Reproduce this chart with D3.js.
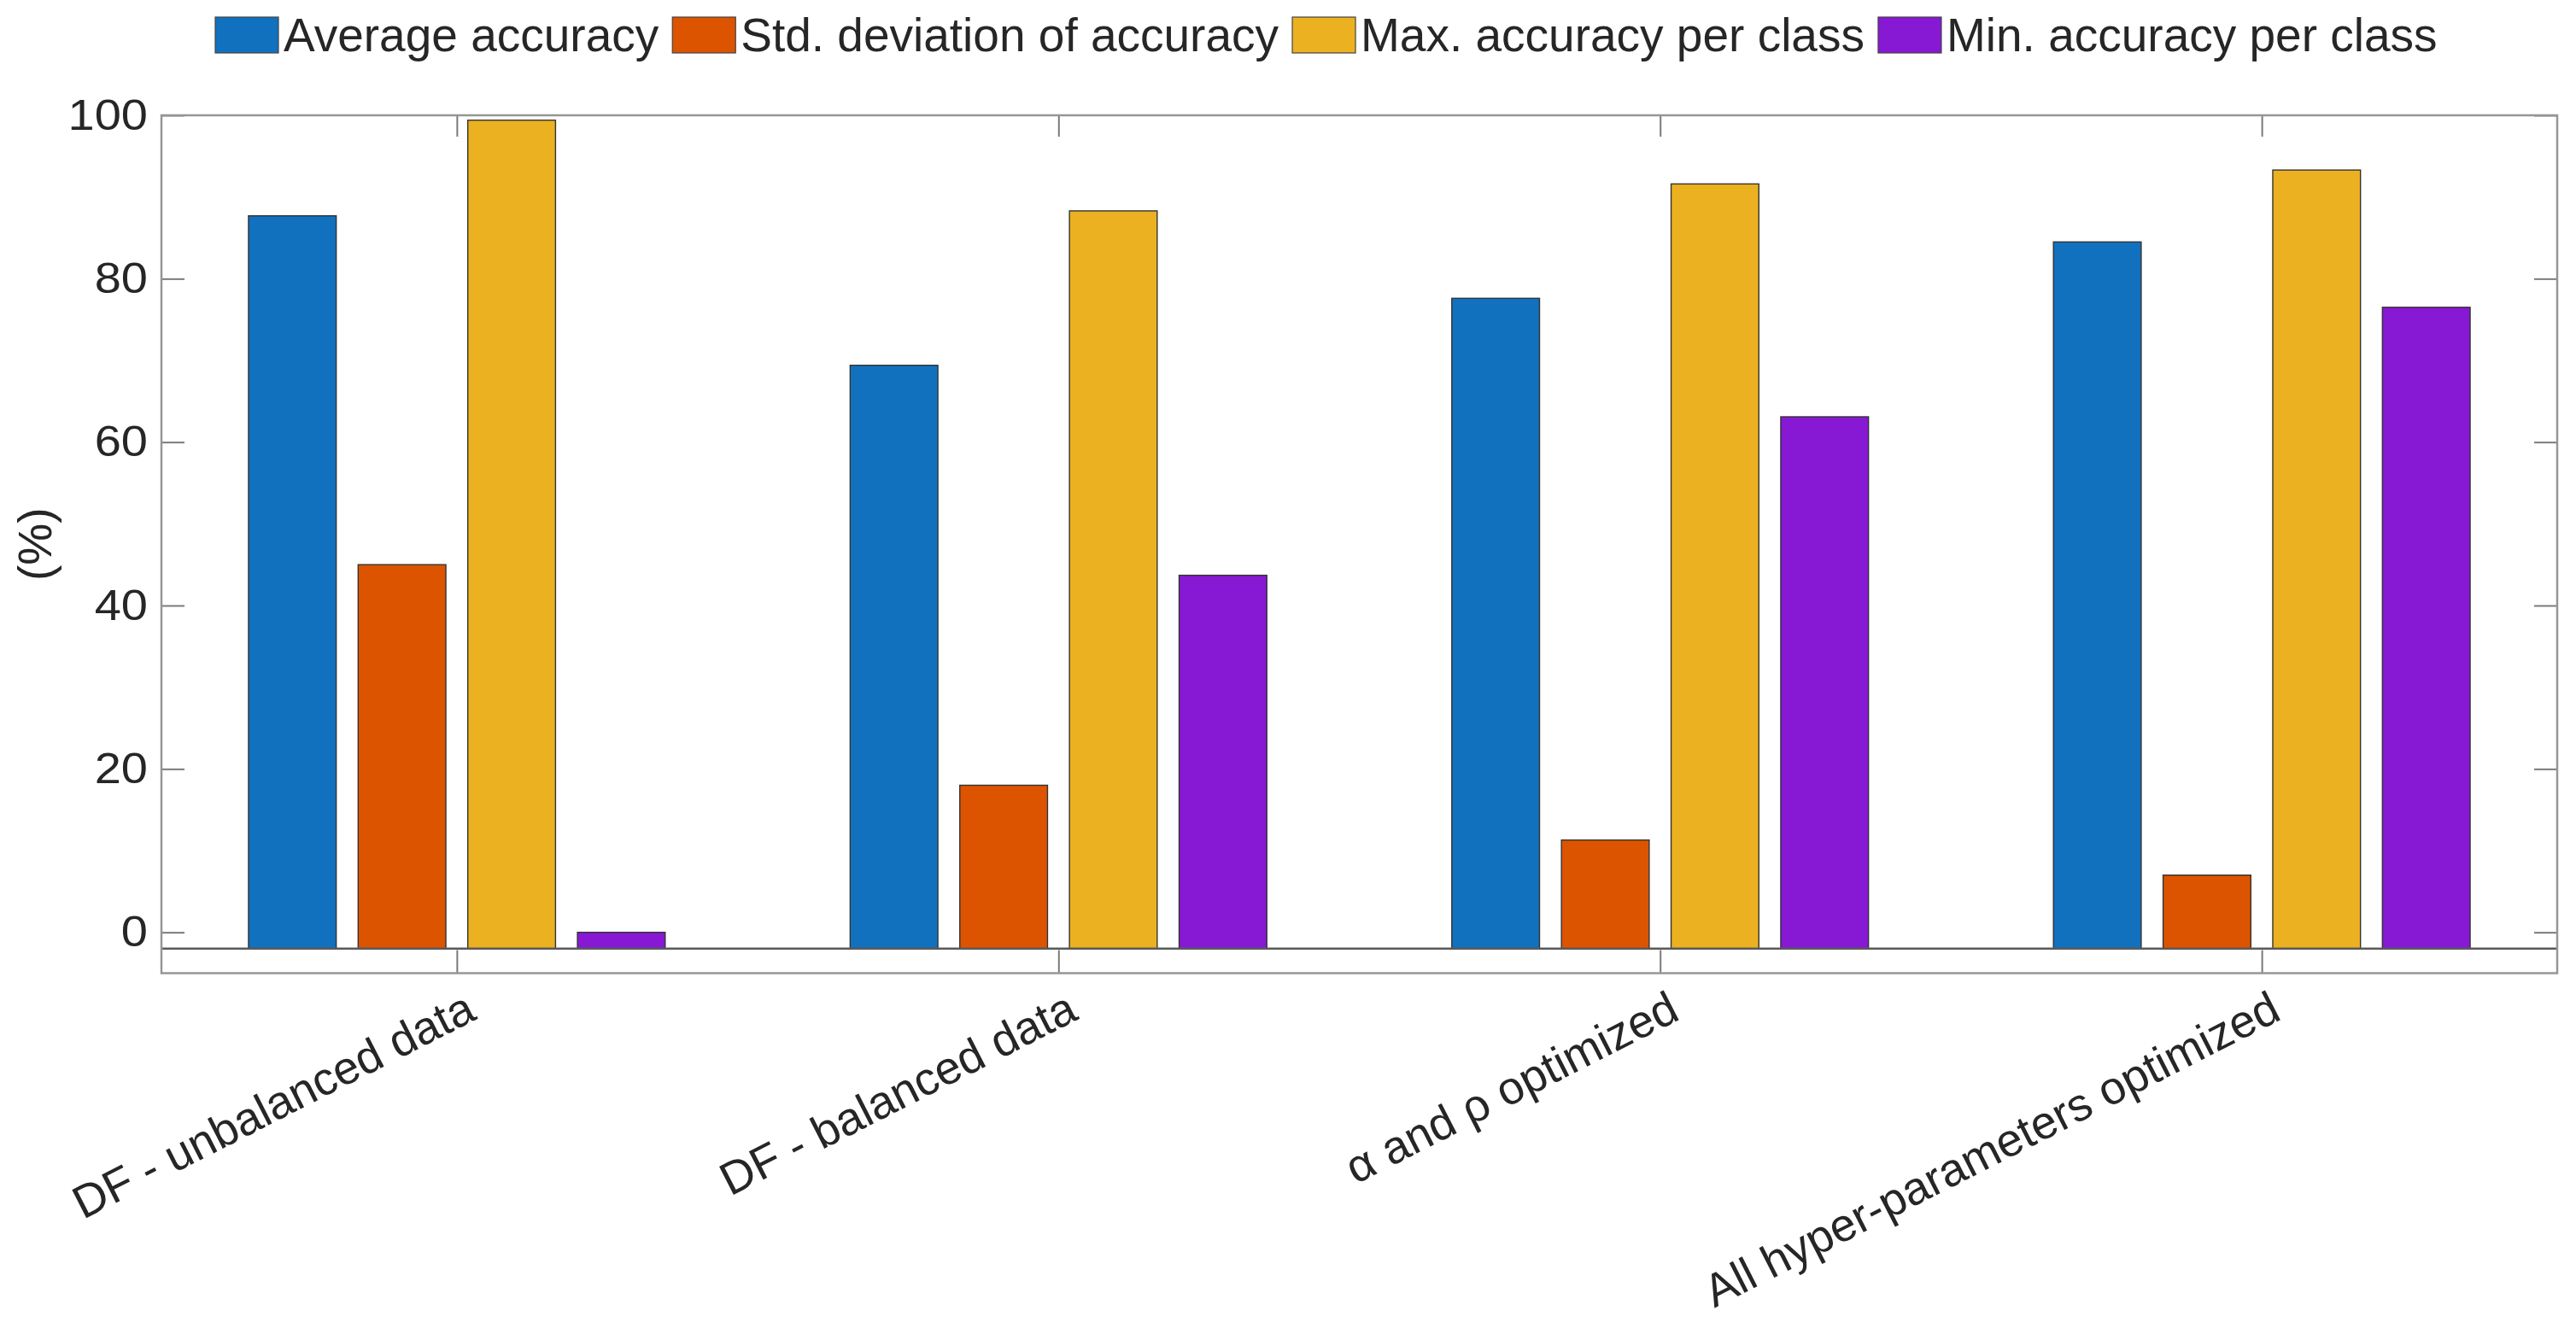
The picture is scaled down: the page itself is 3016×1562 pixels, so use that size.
<!DOCTYPE html>
<html>
<head>
<meta charset="utf-8">
<script src="https://cdn.jsdelivr.net/npm/d3@7"></script>
<style>
  html, body { margin: 0; padding: 0; background: #fff; }
  svg { display: block; font-family: "Liberation Sans", Arial, Helvetica, sans-serif; }
</style>
</head>
<body>
<div id="chart"></div>
<script>
// Categories along the x axis
const categories = [
    'DF - unbalanced data',
    'DF - balanced data',
    'α and ρ optimized',
    'All hyper-parameters optimized'
];

// Series names (legend order) and colours
const seriesNames = [
    'Average accuracy',
    'Std. deviation of accuracy',
    'Max. accuracy per class',
    'Min. accuracy per class'
];
const seriesColors = ['#1171be', '#dc5400', '#ecb120', '#8718d3'];

// Values in %, one array per series
const avgAccuracy = [87.7, 69.4, 77.6, 84.5];
const stdAccuracy = [45.0, 18.0, 11.3, 7.0];
const maxAccuracy = [99.4, 88.3, 91.6, 93.3];
const minAccuracy = [0.0, 43.7, 63.1, 76.5];
const seriesValues = [avgAccuracy, stdAccuracy, maxAccuracy, minAccuracy];

// Axis settings
const yTicks = [0, 20, 40, 60, 80, 100];
const yLimits = [-5, 100];
const barBase = -2;

const W = 3016, H = 1562;
const plot = { left: 189, right: 2994, top: 135, bottom: 1139.5 };
const textColor = '#262626';
const axisColor = '#969696';
const tickLen = 27;
const labelAngle = -27;

const svg = d3.select('#chart')
    .append('svg')
    .attr('width', W)
    .attr('height', H);

// Scales
const x = d3.scaleLinear()
    .domain([0.509, 4.491])
    .range([plot.left, plot.right]);

const y = d3.scaleLinear()
    .domain(yLimits)
    .range([plot.bottom, plot.top]);

// Position of each bar inside a group (MATLAB grouped bar layout)
const groupWidth = x(1 + 0.729 / 2) - x(1 - 0.729 / 2);
const inner = d3.scaleBand()
    .domain(seriesNames)
    .range([-groupWidth / 2, groupWidth / 2])
    .paddingInner(0.2)
    .paddingOuter(0.1);

// Flatten data for drawing
const barData = [];
seriesNames.forEach((name, si) => {
    categories.forEach((cat, ci) => {
        barData.push({ series: name, si: si, ci: ci, value: seriesValues[si][ci] });
    });
});

// Bars
svg.append('g')
    .selectAll('rect')
    .data(barData)
    .enter()
    .append('rect')
    .attr('x', d => x(d.ci + 1) + inner(d.series))
    .attr('width', inner.bandwidth())
    .attr('y', d => y(d.value))
    .attr('height', d => y(barBase) - y(d.value))
    .attr('fill', d => seriesColors[d.si])
    .attr('stroke', '#333')
    .attr('stroke-width', 1.4);

// Bar baseline
svg.append('line')
    .attr('x1', plot.left)
    .attr('x2', plot.right)
    .attr('y1', y(barBase))
    .attr('y2', y(barBase))
    .attr('stroke', '#5a5a5a')
    .attr('stroke-width', 2.5);

// Axes (ticks point inward, like MATLAB)
const catTicks = categories.map((c, i) => i + 1);

const yAxis = svg.append('g')
    .attr('transform', `translate(${plot.left},0)`)
    .call(d3.axisLeft(y).tickValues(yTicks).tickSize(-tickLen).tickPadding(16));

svg.append('g')
    .attr('transform', `translate(${plot.right},0)`)
    .call(d3.axisRight(y).tickValues(yTicks).tickSize(-tickLen).tickFormat(''));

svg.append('g')
    .attr('transform', `translate(0,${plot.top})`)
    .call(d3.axisTop(x).tickValues(catTicks).tickSize(-25).tickFormat(''));

svg.append('g')
    .attr('transform', `translate(0,${plot.bottom})`)
    .call(d3.axisBottom(x).tickValues(catTicks).tickSize(-tickLen).tickFormat(''));

svg.selectAll('.domain').remove();
svg.selectAll('.tick line')
    .attr('stroke', '#7a7a7a')
    .attr('stroke-width', 2);

// tick numbers are drawn a little wide in the original
yAxis.selectAll('.tick text')
    .attr('fill', textColor)
    .attr('x', -16 / 1.12)
    .attr('transform', 'scale(1.12,1)')
    .style('font-size', '50px')
    .style('font-family', '"Liberation Sans", Arial, sans-serif');

// Axes box
svg.append('rect')
    .attr('x', plot.left)
    .attr('y', plot.top)
    .attr('width', plot.right - plot.left)
    .attr('height', plot.bottom - plot.top)
    .attr('fill', 'none')
    .attr('stroke', axisColor)
    .attr('stroke-width', 2.5);

// Rotated category labels
svg.append('g')
    .selectAll('text')
    .data(categories)
    .enter()
    .append('text')
    .attr('transform', (d, i) => `translate(${x(i + 1) + 25},${plot.bottom + 53}) rotate(${labelAngle})`)
    .attr('text-anchor', 'end')
    .attr('fill', textColor)
    .style('font-size', '54px')
    .text(d => d);

// Y axis label
svg.append('text')
    .attr('transform', `translate(60,${(plot.top + plot.bottom) / 2}) rotate(-90)`)
    .attr('text-anchor', 'middle')
    .attr('fill', textColor)
    .style('font-size', '55px')
    .text('(%)');

// Legend across the top
const legend = svg.append('g').attr('transform', 'translate(252,20)');
let lx = 0;
seriesNames.forEach((name, i) => {
    legend.append('rect')
        .attr('x', lx)
        .attr('y', 0)
        .attr('width', 74)
        .attr('height', 42)
        .attr('fill', seriesColors[i])
        .attr('stroke', '#444')
        .attr('stroke-width', 1.2);
    const t = legend.append('text')
        .attr('x', lx + 80)
        .attr('y', 40)
        .attr('fill', textColor)
        .style('font-size', '55px')
        .text(name);
    lx += 80 + t.node().getComputedTextLength() + 16;
});
</script>
</body>
</html>
